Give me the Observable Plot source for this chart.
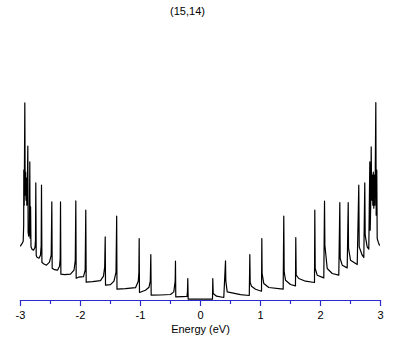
<!DOCTYPE html>
<html>
<head>
<meta charset="utf-8">
<script src="https://cdn.jsdelivr.net/npm/d3@7"></script>
<script src="https://cdn.jsdelivr.net/npm/@observablehq/plot@0.6"></script>
<style>
  html, body { margin: 0; padding: 0; background: #fff; }
</style>
</head>
<body>
<div id="chart"></div>
<script>
const title = "(15,14)";
const xLabel = "Energy (eV)";
const majorTicks = [-3, -2, -1, 0, 1, 2, 3];
const minorTicks = [-2.5, -1.5, -0.5, 0.5, 1.5, 2.5];

// Energy (eV) samples
const energy = [
  -3.000, -2.975, -2.955, -2.947, -2.945, -2.938, -2.928, -2.922, -2.915, -2.908,
  -2.902, -2.895, -2.887, -2.878, -2.873, -2.863, -2.853, -2.845, -2.840, -2.832,
  -2.825, -2.808, -2.783, -2.758, -2.750, -2.745, -2.738, -2.725, -2.692, -2.667,
  -2.655, -2.650, -2.643, -2.617, -2.567, -2.517, -2.488, -2.478, -2.472, -2.433,
  -2.383, -2.350, -2.338, -2.333, -2.327, -2.267, -2.167, -2.108, -2.087, -2.078,
  -2.072, -2.033, -1.950, -1.922, -1.912, -1.905, -1.800, -1.667, -1.617, -1.597,
  -1.588, -1.583, -1.500, -1.442, -1.408, -1.397, -1.392, -1.250, -1.083, -1.037,
  -1.027, -1.022, -1.017, -0.917, -0.858, -0.837, -0.828, -0.822, -0.667, -0.500,
  -0.445, -0.422, -0.417, -0.412, -0.300, -0.225, -0.217, -0.212, -0.205, 0.000,
  0.200, 0.205, 0.212, 0.267, 0.388, 0.417, 0.422, 0.445, 0.667, 0.813,
  0.822, 0.828, 0.850, 0.917, 1.017, 1.022, 1.027, 1.055, 1.138, 1.378,
  1.388, 1.395, 1.417, 1.500, 1.583, 1.588, 1.595, 1.638, 1.750, 1.900,
  1.905, 1.912, 1.945, 2.055, 2.067, 2.073, 2.112, 2.195, 2.305, 2.322,
  2.328, 2.362, 2.445, 2.462, 2.467, 2.500, 2.612, 2.638, 2.645, 2.695,
  2.722, 2.738, 2.745, 2.778, 2.805, 2.822, 2.828, 2.837, 2.845, 2.853,
  2.863, 2.872, 2.880, 2.888, 2.897, 2.905, 2.913, 2.922, 2.928, 2.938,
  2.945, 2.963, 2.983
];

// Density of states (arbitrary units)
const dos = [
  53.3, 55.5, 58, 74, 129, 94, 196.3, 104, 127, 99,
  121, 94, 109, 153, 67, 63, 71, 137.3, 61, 92.3,
  52.5, 50, 49, 52, 59, 116.3, 44, 42, 41, 44,
  54, 114, 37, 35.5, 34, 37, 44, 97.3, 31, 29.5,
  29, 33, 41, 97.3, 25, 24.5, 25, 29, 39, 98.3,
  21, 22, 22.5, 29, 89, 17, 17.5, 18.5, 23, 32,
  62.3, 14, 14.5, 18, 27, 83, 10, 10.5, 11.5, 18,
  27, 60.7, 6.7, 9, 12, 18, 44.7, 4, 4.2, 4.7,
  7.3, 18, 38, 2.3, 2.5, 2.7, 8, 20.7, 0, 0,
  0, 20.7, 5.7, 3, 1.7, 38.3, 18, 7.3, 4.5, 3.7,
  44.7, 16.7, 13, 10, 8, 60.7, 25.7, 15.7, 11.7, 10,
  83, 27, 19, 14.7, 13.3, 61.7, 24, 20.7, 18, 16.7,
  89, 30.7, 24, 21.3, 98, 54, 30.7, 25.7, 24, 96.7,
  40.7, 34, 31.3, 96.7, 51, 39, 34.7, 114, 52.3, 44,
  41.7, 116.3, 64, 52.3, 50, 137.3, 69, 94, 152.3, 99,
  124, 94, 127, 91, 124, 94, 129, 196.7, 84, 129,
  60.7, 57, 54
];

const points = energy.map((e, i) => ({e, v: dos[i]}));
const blue = "#2a2acc";
const font = "'Liberation Sans', Arial, sans-serif";

const chart = Plot.plot({
  width: 409,
  height: 345,
  marginLeft: 20,
  marginRight: 29,
  marginTop: 100,
  marginBottom: 45,
  style: {fontFamily: font, fontSize: "11px", color: "#000", background: "#fff", overflow: "visible"},
  x: {domain: [-3, 3]},
  y: {domain: [-1.3, 198.7], axis: null},
  marks: [
    Plot.frame({anchor: "bottom", stroke: blue, strokeWidth: 1.2}),
    Plot.axisX({ticks: minorTicks, tickSize: 4, stroke: blue, strokeWidth: 1.2, text: null, label: null}),
    Plot.axisX({ticks: majorTicks, tickSize: 6, tickPadding: 5, stroke: blue, strokeWidth: 1.2,
      tickFormat: d => String(d), fill: "#000", fontSize: 11, label: null}),
    Plot.line(points, {x: "e", y: "v", stroke: "#000", strokeWidth: 1.2}),
    Plot.text([xLabel], {frameAnchor: "bottom", dy: 32, text: d => d, fill: "#000", fontSize: 11}),
    Plot.text([title], {frameAnchor: "top", dx: -13, dy: -93, text: d => d, fill: "#000", fontSize: 11})
  ]
});
document.getElementById("chart").appendChild(chart);
</script>
</body>
</html>
